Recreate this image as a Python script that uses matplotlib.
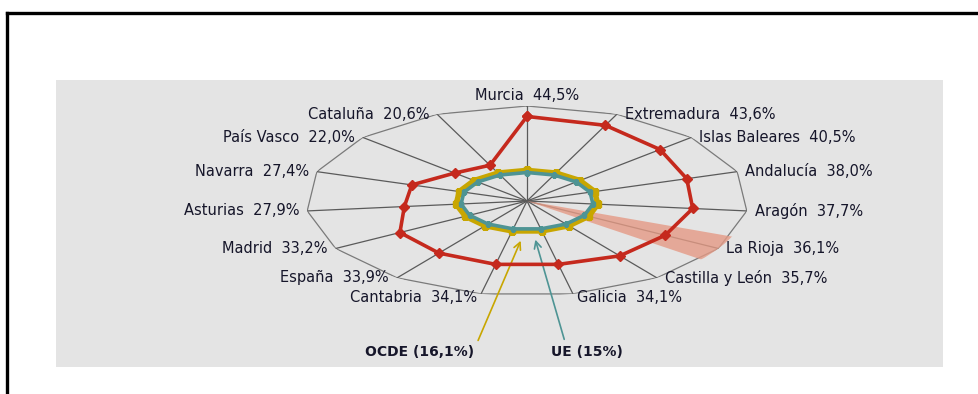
import numpy as np
import matplotlib
matplotlib.use('Agg')
import matplotlib.pyplot as plt
from matplotlib.patches import Rectangle
from matplotlib.lines import Line2D


# Regions sorted by value (clockwise from the top)
regiones = ['Murcia', 'Extremadura', 'Islas Baleares', 'Andalucía', 'Aragón',
            'La Rioja', 'Castilla y León', 'Galicia', 'Cantabria', 'España',
            'Madrid', 'Asturias', 'Navarra', 'País Vasco', 'Cataluña']
valores = [44.5, 43.6, 40.5, 38.0, 37.7, 36.1, 35.7, 34.1, 34.1, 33.9,
           33.2, 27.9, 27.4, 22.0, 20.6]
ocde = 16.1
ue = 15.0
r_max = 50

RED = '#c5291d'
YELLOW = '#c8a600'
TEAL = '#4e9494'
TXT = '#16162a'

W, H = 979, 394
fig = plt.figure(figsize=(W / 100, H / 100), dpi=100)

# frame lines (top and left) and grey panel
fig.add_artist(Line2D([7 / W, 1], [1 - 13 / H, 1 - 13 / H], color='black', lw=2.4))
fig.add_artist(Line2D([7 / W, 7 / W], [1 - 13 / H, 0], color='black', lw=2.4))
fig.add_artist(Rectangle((56 / W, 1 - 367 / H), 887 / W, 287 / H,
                         facecolor='#e4e4e4', edgecolor='none', zorder=0))

# radar axes (stretched horizontally like the original)
cx, cy, rx, ry = 527, 201, 221, 95
ax = fig.add_axes([(cx - rx) / W, 1 - (cy + ry) / H, 2 * rx / W, 2 * ry / H],
                  projection='polar')
ax.set_aspect('auto')
ax.set_theta_zero_location('N')
ax.set_theta_direction(-1)
ax.set_ylim(0, r_max)
ax.grid(False)
ax.set_xticks([])
ax.set_yticks([])
ax.spines['polar'].set_visible(False)
ax.patch.set_alpha(0)

n = len(regiones)
theta = np.arange(n) * 2 * np.pi / n
th_c = np.append(theta, theta[0])

# outer polygon and spokes
ax.plot(th_c, [r_max] * (n + 1), color='#7a7a7a', lw=0.9, zorder=1)
for t in theta:
    ax.plot([t, t], [0, r_max], color='#5a5a5a', lw=0.9, zorder=1)

# callout wedge for La Rioja
i_rioja = regiones.index('La Rioja')
d = np.deg2rad(8)
ax.fill([theta[i_rioja], theta[i_rioja] - d, theta[i_rioja] + d],
        [0, r_max * 1.035, r_max * 1.03], color='#e49a85', alpha=0.8,
        lw=0, zorder=2)

# series
ax.plot(th_c, [ocde] * (n + 1), color=YELLOW, lw=4.0, marker='s', ms=4.5, zorder=3)
ax.plot(th_c, [ue] * (n + 1), color=TEAL, lw=2.6, marker='s', ms=3.5, zorder=4)
ax.plot(th_c, valores + valores[:1], color=RED, lw=2.6, marker='D', ms=5, zorder=5)

# labels
for i, (name, v) in enumerate(zip(regiones, valores)):
    txt = f'{name}  {v:.1f}%'.replace('.', ',')
    s = np.sin(theta[i])
    if i == 0:
        off, ha = (0, 10), 'center'
    elif i in (7, 8):
        off, ha = (4 if s > 0 else -4, -4), 'left' if s > 0 else 'right'
    elif s > 0:
        off, ha = (8, 0), 'left'
    else:
        off, ha = (-8, 0), 'right'
    ax.annotate(txt, xy=(theta[i], r_max), xytext=off, textcoords='offset pixels',
                ha=ha, va='center', fontsize=10.5, color=TXT,
                annotation_clip=False)

# OCDE / UE callouts
ax.annotate('', xy=(np.pi + 0.06, ocde + 3.5), xytext=(477, H - 343),
            textcoords='figure pixels',
            arrowprops=dict(arrowstyle='->,head_length=0.5,head_width=0.25',
                            color=YELLOW, lw=1.2))
ax.annotate('', xy=(np.pi - 0.09, ue + 4), xytext=(565, H - 342),
            textcoords='figure pixels',
            arrowprops=dict(arrowstyle='->,head_length=0.5,head_width=0.25',
                            color=TEAL, lw=1.2))
fig.text(420 / W, 1 - 352 / H, 'OCDE (16,1%)', ha='center', va='center',
         fontsize=10, fontweight='bold', color=TXT)
fig.text(587 / W, 1 - 352 / H, 'UE (15%)', ha='center', va='center',
         fontsize=10, fontweight='bold', color=TXT)

fig.savefig('out.png', dpi=100)
